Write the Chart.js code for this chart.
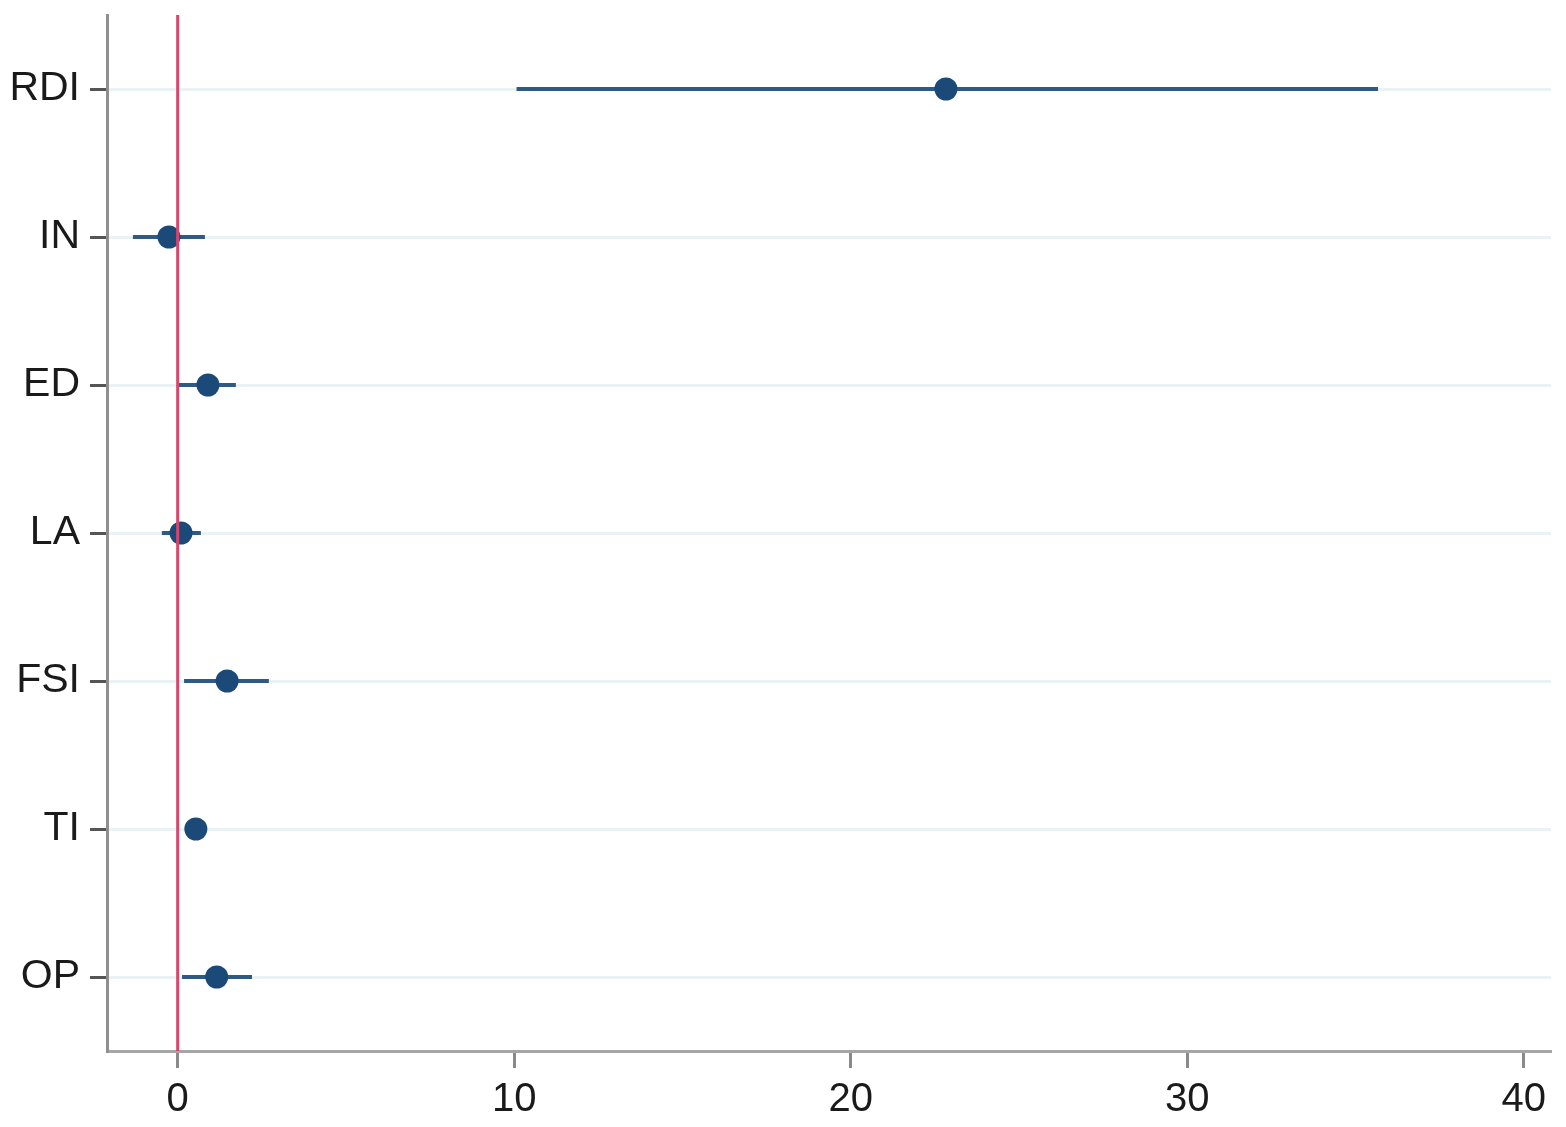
<!DOCTYPE html>
<html>
<head>
<meta charset="utf-8">
<script src="https://cdn.jsdelivr.net/npm/chart.js@4"></script>
<style>
  html, body { margin: 0; padding: 0; background: #fff; }
  #wrap { width: 1566px; height: 1127px; }
</style>
</head>
<body>
<div id="wrap"><canvas id="coef"></canvas></div>
<script>
const categories = ['RDI', 'IN', 'ED', 'LA', 'FSI', 'TI', 'OP'];
const estimates = [22.83, -0.26, 0.90, 0.10, 1.47, 0.54, 1.16];
const lower = [10.07, -1.33, 0.04, -0.47, 0.19, 0.35, 0.13];
const upper = [35.67, 0.81, 1.73, 0.69, 2.71, 0.73, 2.21];
const xTicks = [0, 10, 20, 30, 40];
const refValue = 0;

const ctx = document.getElementById('coef');
const markerColor = '#1b4a78';
const ciColor = '#2f5a86';

const ciSets = categories.map((c, i) => ({
  type: 'line',
  label: c + ' CI',
  data: [{ x: lower[i], y: i }, { x: upper[i], y: i }],
  borderColor: ciColor,
  borderWidth: 4,
  pointRadius: 0,
  order: 2,
}));

const chart = new Chart(ctx, {
  type: 'scatter',
  data: {
    datasets: [
      ...ciSets,
      {
        label: 'estimate',
        data: categories.map((c, i) => ({ x: estimates[i], y: i })),
        backgroundColor: markerColor,
        borderColor: markerColor,
        pointRadius: 11.5,
        borderWidth: 0,
        order: 1,
      },
      {
        type: 'line',
        label: 'zero',
        data: [{ x: refValue, y: -0.5 }, { x: refValue, y: categories.length - 0.5 }],
        borderColor: '#d9466c',
        borderWidth: 3,
        pointRadius: 0,
        order: 0,
      },
    ],
  },
  options: {
    responsive: true,
    maintainAspectRatio: false,
    animation: false,
    layout: { padding: { top: 15, right: 15, left: 0, bottom: 0 } },
    plugins: {
      legend: { display: false },
      tooltip: { enabled: false },
    },
    scales: {
      x: {
        type: 'linear',
        min: -2.1,
        max: 40.81,
        afterBuildTicks: (s) => { s.ticks = xTicks.map((v) => ({ value: v })); },
        afterFit: (s) => { s.height = 76; s.paddingRight = 0; s.paddingLeft = 0; },
        border: { color: '#a6a6a6', width: 3 },
        grid: {
          drawOnChartArea: false,
          drawTicks: true,
          tickLength: 17,
          tickColor: '#8a8a8a',
          tickWidth: 3,
        },
        ticks: {
          color: '#1a1a1a',
          padding: 8,
          maxRotation: 0,
          font: { family: 'Liberation Sans, Arial', size: 40 },
        },
      },
      y: {
        type: 'linear',
        reverse: true,
        min: -0.5,
        max: categories.length - 0.5,
        afterBuildTicks: (s) => { s.ticks = categories.map((c, i) => ({ value: i })); },
        afterFit: (s) => { s.width = 107; s.paddingTop = 0; s.paddingBottom = 0; },
        border: { color: '#8f8f8f', width: 3 },
        grid: {
          color: '#ebf2f3',
          lineWidth: 3,
          tickLength: 17,
          tickColor: '#555',
          tickWidth: 3,
        },
        ticks: {
          color: '#1a1a1a',
          padding: 10,
          callback: (v) => categories[v],
          font: { family: 'Liberation Sans, Arial', size: 41 },
        },
      },
    },
  },
});
</script>
</body>
</html>
